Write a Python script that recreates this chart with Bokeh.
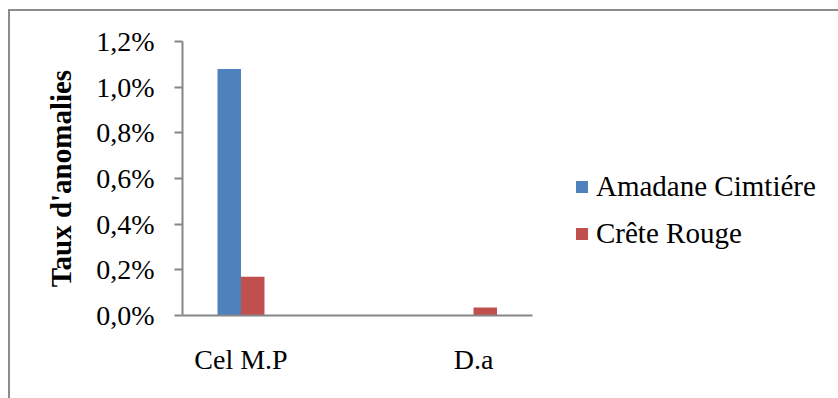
from bokeh.plotting import figure
from bokeh.models import (ColumnDataSource, Range1d, FixedTicker, CustomJSTickFormatter,
                          Legend, LegendItem, InlineStyleSheet)
from bokeh.transform import dodge
from bokeh.embed import file_html
from bokeh.resources import INLINE

# Anomaly rates (%) per category and site
categories = ["Cel M.P", "D.a"]
amadane_cimtiere = [1.08, 0.0]
crete_rouge = [0.17, 0.035]
y_ticks = [0.0, 0.2, 0.4, 0.6, 0.8, 1.0, 1.2]

BLUE = "#4F81BD"
RED = "#C0504D"
GREY = "#868686"
FONT = "Liberation Serif"

src = ColumnDataSource(dict(
    x=list(range(len(categories))),
    amadane=amadane_cimtiere,
    crete=crete_rouge,
))

p = figure(width=838, height=398, output_backend="svg", toolbar_location=None,
           x_range=Range1d(-0.2516, 1.2538), y_range=Range1d(0, 1.2))
p.frame_width = 350
p.frame_height = 274
p.min_border_left = 182
p.min_border_right = 306
p.min_border_top = 41
p.min_border_bottom = 83
p.outline_line_color = None
p.grid.visible = False
p.background_fill_color = "white"
p.border_fill_color = "white"

bw = 0.101
r1 = p.vbar(x=dodge("x", -bw / 2, range=p.x_range), top="amadane", width=bw,
            source=src, fill_color=BLUE, line_color=None)
r2 = p.vbar(x=dodge("x", bw / 2, range=p.x_range), top="crete", width=bw,
            source=src, fill_color=RED, line_color=None)

# y axis
ya = p.yaxis[0]
ya.ticker = FixedTicker(ticks=y_ticks)
ya.formatter = CustomJSTickFormatter(code="return tick.toFixed(1).replace('.', ',') + '%';")
ya.axis_label = "Taux d'anomalies"
ya.axis_label_text_font = FONT
ya.axis_label_text_font_style = "bold"
ya.axis_label_text_font_size = "29px"
ya.axis_label_text_color = "black"
ya.axis_label_standoff = 16
ya.major_label_text_font = FONT
ya.major_label_text_font_size = "28px"
ya.major_label_text_color = "black"
ya.major_label_standoff = 20
ya.major_tick_out = 8
ya.major_tick_in = 0
ya.minor_tick_out = 0
ya.minor_tick_in = 0
ya.axis_line_color = GREY
ya.axis_line_width = 2
ya.major_tick_line_color = GREY
ya.major_tick_line_width = 2

# x axis
xa = p.xaxis[0]
xa.ticker = FixedTicker(ticks=list(range(len(categories))))
xa.major_label_overrides = {i: c for i, c in enumerate(categories)}
xa.major_label_text_font = FONT
xa.major_label_text_font_size = "28px"
xa.major_label_text_color = "black"
xa.major_label_standoff = 28
xa.major_tick_out = 0
xa.major_tick_in = 0
xa.minor_tick_out = 0
xa.minor_tick_in = 0
xa.axis_line_color = GREY
xa.axis_line_width = 2

legend = Legend(items=[LegendItem(label="Amadane Cimtiére", renderers=[r1]),
                       LegendItem(label="Crête Rouge", renderers=[r2])],
                location=(42, 65), orientation="vertical")
legend.label_text_font = FONT
legend.label_text_font_size = "29px"
legend.label_text_color = "black"
legend.glyph_width = 15
legend.glyph_height = 15
legend.label_standoff = 7
legend.spacing = 14
legend.padding = 0
legend.margin = 0
legend.border_line_color = None
legend.background_fill_alpha = 0
p.add_layout(legend, "right")

# chart area border, drawn as an overlay on the figure element
p.stylesheets = [InlineStyleSheet(css="""
:host { position: relative; overflow: hidden; }
:host::after {
  content: "";
  position: absolute;
  left: 8px; top: 9px;
  width: 900px; height: 500px;
  border: 2.5px solid #8c8c8c;
  box-sizing: border-box;
  pointer-events: none;
}
""")]

open("out.html", "w").write(file_html(p, INLINE))
